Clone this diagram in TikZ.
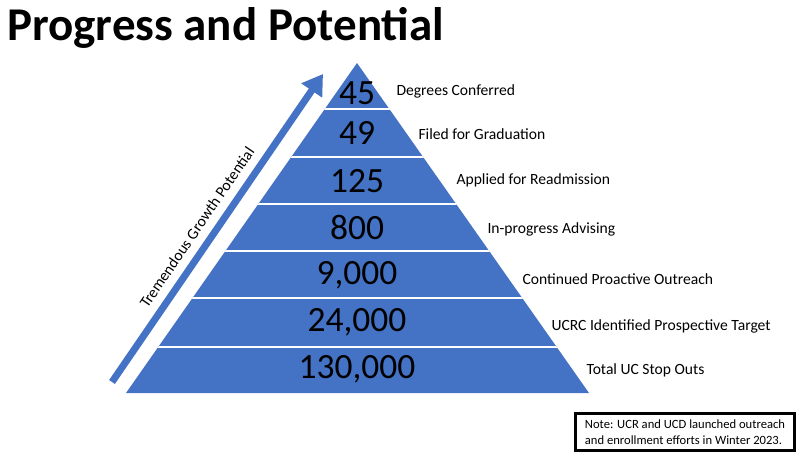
\documentclass[tikz,border=0pt]{standalone}
\usepackage{fontspec}
\setmainfont{Carlito}
\usepackage{tikz}
\usetikzlibrary{arrows.meta}
\definecolor{pyrblue}{HTML}{4472C4}

\begin{document}
\begin{tikzpicture}[x=1pt,y=-1pt,
  count/.style={font=\fontsize{35.5}{35}\selectfont},
  stage/.style={anchor=west,font=\fontsize{15.6}{18}\selectfont}]
\useasboundingbox (0,0) rectangle (806,463);
\node [anchor=base west,inner sep=0pt,font=\fontsize{47}{47}\selectfont\bfseries] (title) at (7,40) {Progress and Potential};

% pyramid
\coordinate (apex) at (357,63);
\coordinate (bl) at (126,393);
\coordinate (br) at (589,393);
\fill [pyrblue] (apex) -- (br) -- (bl) -- cycle;
\begin{scope}
\clip (apex) -- (br) -- (bl) -- cycle;
\foreach \y in {109,157,204,251,298,347}
  \draw [white,line width=1.6pt] (100,\y) -- (620,\y);
\end{scope}

\node [count] (n1) at (357,93) {45};
\node [count] (n2) at (357,133) {49};
\node [count] (n3) at (357,181) {125};
\node [count] (n4) at (357,228) {800};
\node [count] (n5) at (357,275) {9,000};
\node [count] (n6) at (357,322) {24,000};
\node [count] (n7) at (357,369) {130,000};

\node [stage] (s1) at (393,91) {Degrees Conferred};
\node [stage] (s2) at (415,134) {Filed for Graduation};
\node [stage] (s3) at (453,180) {Applied for Readmission};
\node [stage] (s4) at (484,229) {In-progress Advising};
\node [stage] (s5) at (519,279) {Continued Proactive Outreach};
\node [stage] (s6) at (548,326) {UCRC Identified Prospective Target};
\node [stage] (s7) at (583,370) {Total UC Stop Outs};

% growth arrow
\coordinate (tail) at (112,382);
\coordinate (head) at (323,74);
\draw [pyrblue,line width=7pt,-{Triangle[length=20pt,width=24pt]}] (tail) -- node [sloped,above=5pt,pos=0.47,text=black,font=\fontsize{15.6}{18}\selectfont] (growth) {Tremendous Growth Potential} (head);

\node [draw,line width=2.6pt,minimum width=219pt,minimum height=37pt,align=left,font=\fontsize{12.6}{16}\selectfont] (note) at (685,432) {Note: UCR and UCD launched outreach\\and enrollment efforts in Winter 2023.};
\end{tikzpicture}
\end{document}
